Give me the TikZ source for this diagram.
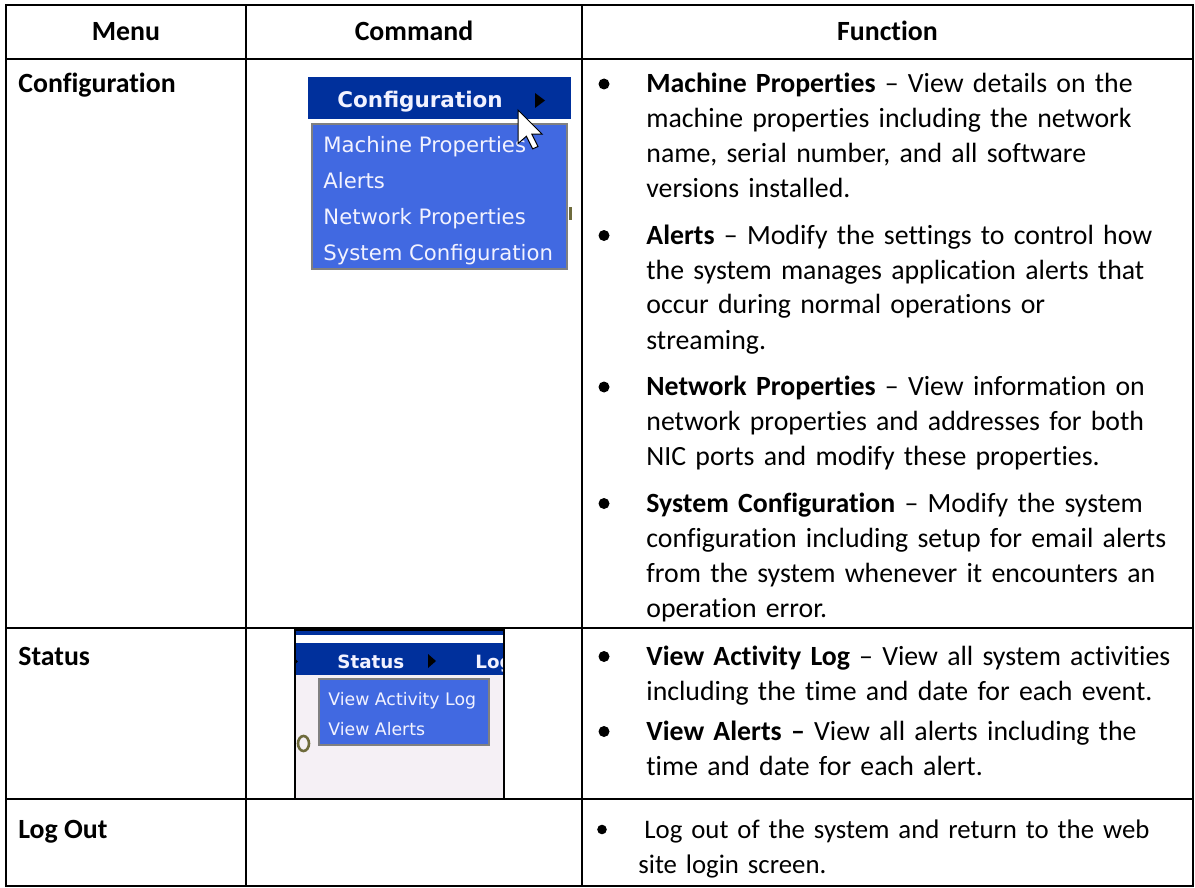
\documentclass[tikz,border=0pt]{standalone}
\usepackage{fontspec}
\setmainfont{Carlito}[Ligatures={TeX,NoCommon}]
\newfontfamily\guifont{DejaVu Sans}
\usetikzlibrary{positioning}
\definecolor{barblue}{HTML}{00309C}
\definecolor{dropblue}{HTML}{4169E1}
\definecolor{guitext}{HTML}{F2F2FF}
\definecolor{pagebg}{HTML}{F5F0F5}
\definecolor{oliv}{HTML}{6E6B3C}
\newcommand{\rowfont}{\fontsize{13.9}{17.5}\selectfont}
\newcommand{\cellsep}{0pt}

\begin{document}
\begin{tikzpicture}[x=0.5pt,y=-0.5pt,
    rule/.style={line width=1pt},
    head/.style={inner sep=\cellsep, anchor=base, font=\rowfont\bfseries},
    menulabel/.style={inner sep=\cellsep, anchor=base west, font=\rowfont\bfseries},
    entry/.style={inner sep=\cellsep, anchor=base west, text width=300pt, align=left, font=\rowfont},
    bulletdot/.style={circle, fill=black, inner sep=0pt, minimum size=5.5pt},
    menubar/.style={inner sep=0pt, anchor=base west, text=guitext},
    menuitem/.style={inner sep=0pt, anchor=base west, text=guitext},
    dropdown/.style={fill=dropblue, draw=gray, line width=1.2pt}]
  \useasboundingbox (0,0) rectangle (1195,888);
  \fill[white] (0,0) rectangle (1195,888);

  \node[head] (hmenu) at (126,40.7) {Menu};
  \node[head] (hcommand) at (414,40.7) {Command};
  \node[head] (hfunction) at (887.5,40.7) {Function};

  \node[menulabel] (mconfig) at (18,92.5) {Configuration};
  \node[menulabel] (mstatus) at (18,665) {Status};
  \node[menulabel] (mlogout) at (18,838) {Log Out};

  \fill[barblue] (308,77) rectangle (571,119);
  \node[menubar, font=\guifont\bfseries\fontsize{10.75}{12}\selectfont] (cfgtitle) at (337,108) {Configuration};
  \fill[black] (535,93) -- (545,100.5) -- (535,108) -- cycle;
  \filldraw[dropdown] (312,124) rectangle (567,269);
  \begin{scope}[font=\guifont\fontsize{10.6}{12}\selectfont]
    \node[menuitem] (cfgmachine) at (323,152.5) {Machine Properties};
    \node[menuitem] (cfgalerts) at (323,189) {Alerts};
    \node[menuitem] (cfgnetwork) at (323,225) {Network Properties};
    \node[menuitem] (cfgsystem) at (323,260) {System Configuration};
  \end{scope}
  \fill[oliv] (569,207) rectangle (572,220);
  \filldraw[fill=white, draw=black, line width=0.5pt, shift={(518,110)}, scale=2.1]
    (0,0) -- (0,16) -- (4,12.5) -- (7,18.5) -- (9.5,17.4) -- (6.6,11.5) -- (11.5,11.5) -- cycle;

  \begin{scope}
    \clip (295,630) rectangle (504,799);
    \fill[pagebg] (295,630) rectangle (504,799);
    \fill[white] (295,630) rectangle (504,643);
    \fill[barblue] (295,631) rectangle (504,635);
    \fill[barblue] (295,643) rectangle (504,675);
    \fill[black] (292,656) -- (298,661.5) -- (292,667) -- cycle;
    \node[menubar, font=\guifont\bfseries\fontsize{9.15}{11}\selectfont] (sttitle) at (337,668) {Status};
    \fill[black] (428,654) -- (436,661) -- (428,668) -- cycle;
    \node[menubar, font=\guifont\bfseries\fontsize{9.15}{11}\selectfont] (stlog) at (475,668) {Log};
    \filldraw[dropdown] (319,679) rectangle (489,745);
    \node[menuitem, font=\guifont\fontsize{8.65}{11}\selectfont] (stactivity) at (328,705) {View Activity Log};
    \node[menuitem, font=\guifont\fontsize{8.65}{11}\selectfont] (stalerts) at (328,735) {View Alerts};
    \draw[oliv, line width=1.3pt] (303.5,743.5) ellipse (5.5 and 7.5);
  \end{scope}
  \draw[rule] (295,630) rectangle (504,799);

  \node[bulletdot] (b1) at (604,84) {};
  \node[entry] (fmachine) at (646,92.5) {\textbf{Machine Properties} – View details on the\\
    machine properties including the network\\
    name, serial number, and all software\\
    versions installed.};
  \node[bulletdot] (b2) at (604,235.5) {};
  \node[entry] (falerts) at (646,244) {\textbf{Alerts} – Modify the settings to control how\\
    the system manages application alerts that\\
    occur during normal operations or\\
    streaming.};
  \node[bulletdot] (b3) at (604,387) {};
  \node[entry] (fnetwork) at (646,395.5) {\textbf{Network Properties} – View information on\\
    network properties and addresses for both\\
    NIC ports and modify these properties.};
  \node[bulletdot] (b4) at (604,503.5) {};
  \node[entry] (fsystem) at (646,512) {\textbf{System Configuration} – Modify the system\\
    configuration including setup for email alerts\\
    from the system whenever it encounters an\\
    operation error.};
  \node[bulletdot] (b5) at (604,656.5) {};
  \node[entry] (factivity) at (646,665) {\textbf{View Activity Log} – View all system activities\\
    including the time and date for each event.};
  \node[bulletdot] (b6) at (604,731.5) {};
  \node[entry] (fviewalerts) at (646,740) {\textbf{View Alerts –} View all alerts including the\\
    time and date for each alert.};
  \node[bulletdot, minimum size=4.8pt] (b7) at (602,829.5) {};
  \node[entry, font=\fontsize{13.4}{17.5}\selectfont] (flogout) at (644,838) {Log out of the system and return to the web\\
    \hspace*{-3pt}site login screen.};

  \draw[rule] (5.5,5.5) rectangle (1193,886);
  \draw[rule] (5.5,59) -- (1193,59);
  \draw[rule] (5.5,628) -- (1193,628);
  \draw[rule] (5.5,799) -- (1193,799);
  \draw[rule] (246,5.5) -- (246,886);
  \draw[rule] (582,5.5) -- (582,886);
\end{tikzpicture}
\end{document}
